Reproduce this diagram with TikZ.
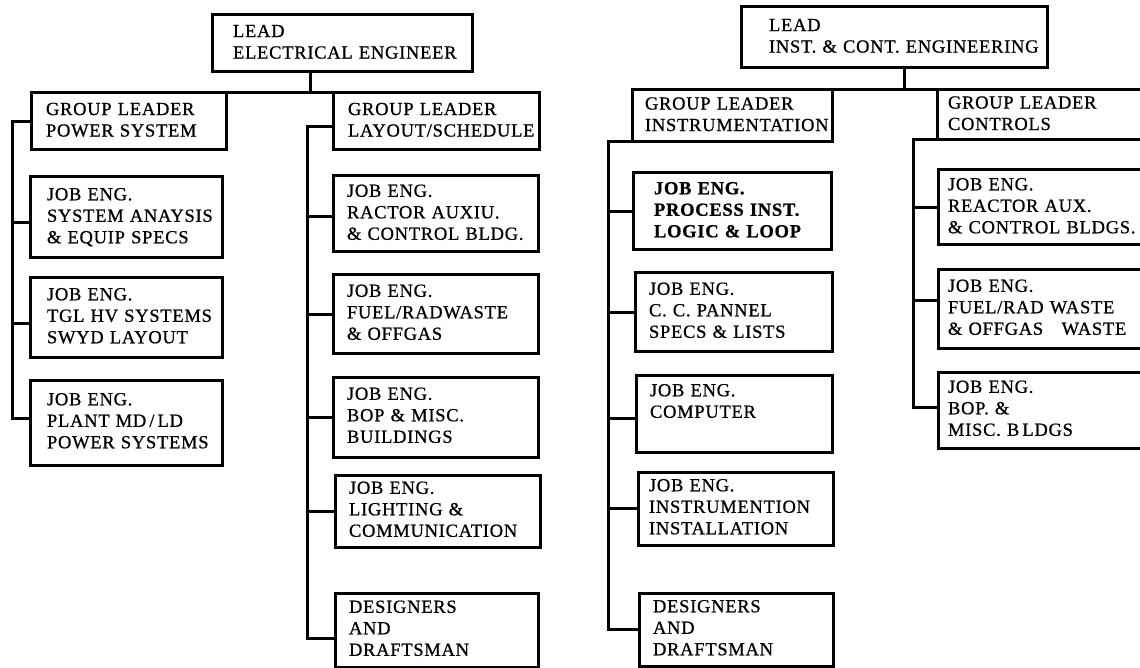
\documentclass[tikz,border=0pt]{standalone}
\usepackage{fontspec}
\setmainfont{Liberation Serif}[LetterSpace=4,FakeBold=0.8]
\tikzset{
  obox/.style={draw, line width=3pt, anchor=north west, inner ysep=0pt, outer sep=0pt,
    align=left, font=\fontsize{18.5}{21.5}\selectfont},
  conn/.style={line width=3pt},
}
% #1 options, #2 name, #3 x1, #4 y1, #5 x2, #6 y2, #7 left padding, #8 text
\newcommand\obx[8][]{%
  \pgfmathsetmacro\bw{#5-#3}\pgfmathsetmacro\bh{#6-#4}\pgfmathsetmacro\tw{#5-#3-2*#7}%
  \node[obox,#1,minimum width=\bw pt,minimum height=\bh pt,text width=\tw pt,inner xsep=#7pt]
    (#2) at (#3,#4) {\begin{tabular}{@{}l@{}}#8\end{tabular}};}
\begin{document}
\begin{tikzpicture}[x=1pt,y=-1pt]
\useasboundingbox (0,0) rectangle (1140,668);
% ---------- Electrical tree ----------
\obx{leadEE}{212}{15}{472}{72}{21}{LEAD\\ELECTRICAL ENGINEER}
\obx{glPower}{31}{93}{226}{150}{15}{GROUP LEADER\\POWER SYSTEM}
\obx{glLayout}{333}{93}{539}{150}{15}{GROUP LEADER\\LAYOUT/SCHEDULE}
\obx{jeSys}{30}{177}{222}{258}{17}{JOB ENG.\\SYSTEM ANAYSIS\\\& EQUIP SPECS}
\obx{jeTGL}{30}{278}{222}{357}{17}{JOB ENG.\\TGL HV SYSTEMS\\SWYD LAYOUT}
\obx{jePlant}{30}{380}{222}{465}{17}{JOB ENG.\\PLANT MD\,/\,LD\\POWER SYSTEMS}
\obx{jeRactor}{333}{176}{538}{252}{14}{JOB ENG.\\RACTOR AUXIU.\\\& CONTROL BLDG.}
\obx{jeFuel}{333}{275}{538}{353}{14}{JOB ENG.\\FUEL/RADWASTE\\\& OFFGAS}
\obx{jeBOP}{333}{377}{538}{457}{14}{JOB ENG.\\BOP \& MISC.\\BUILDINGS}
\obx{jeLight}{335}{475}{540}{547}{14}{JOB ENG.\\LIGHTING \&\\COMMUNICATION}
\obx{desL}{335}{593}{538}{667}{14}{DESIGNERS\\AND\\DRAFTSMAN}
% ---------- I&C tree ----------
\obx{leadIC}{741}{7}{1047}{68}{28}{LEAD\\INST. \& CONT. ENGINEERING}
\obx{glInstr}{632}{90}{832}{142}{13}{GROUP LEADER\\INSTRUMENTATION}
\obx{glCtrl}{937}{90}{1146}{140}{11}{GROUP LEADER\\CONTROLS}
\obx[font=\fontsize{18.5}{21.5}\selectfont\bfseries]{jeProc}{633}{173}{831}{250}{21}{JOB ENG.\\PROCESS INST.\\LOGIC \& LOOP}
\obx{jeCC}{635}{273}{832}{351}{14}{JOB ENG.\\C. C. PANNEL\\SPECS \& LISTS}
\obx{jeComp}{636}{375}{832}{452}{14}{JOB ENG.\\COMPUTER\\\mbox{}}
\obx{jeInst}{638}{472}{833}{545}{11}{JOB ENG.\\INSTRUMENTION\\INSTALLATION}
\obx{desR}{639}{593}{833}{666}{14}{DESIGNERS\\AND\\DRAFTSMAN}
\obx{jeReact}{938}{170}{1146}{245}{10}{JOB ENG.\\REACTOR AUX.\\\& CONTROL BLDGS.}
\obx{jeFuelR}{938}{270}{1146}{348}{10}{JOB ENG.\\FUEL/RAD WASTE\\\& OFFGAS\quad WASTE}
\obx{jeBOPR}{938}{372}{1146}{448}{10}{JOB ENG.\\BOP. \&\\MISC. B\,LDGS}
% ---------- connectors: electrical ----------
\coordinate (eeJ) at (310,93);
\draw[conn] (leadEE.south -| eeJ) -- (eeJ);
\draw[conn] (glPower.north east) -- (glLayout.north west);
\coordinate (bL) at (12,0);
\draw[conn] (glPower.west) -- (glPower.west -| bL) -- ([yshift=4pt]jePlant.west -| bL) -- ([yshift=4pt]jePlant.west);
\draw[conn] ([yshift=-5pt]jeSys.west) -- ([yshift=-5pt]jeSys.west -| bL);
\draw[conn] ([yshift=-6pt]jeTGL.west) -- ([yshift=-6pt]jeTGL.west -| bL);
\coordinate (bR) at (307,0);
\draw[conn] ([yshift=-5pt]glLayout.west) -- ([yshift=-5pt]glLayout.west -| bR) -- ([yshift=-8pt]desL.west -| bR) -- ([yshift=-8pt]desL.west);
\draw[conn] ([yshift=-3pt]jeRactor.west) -- ([yshift=-3pt]jeRactor.west -| bR);
\draw[conn] (jeFuel.west) -- (jeFuel.west -| bR);
\draw[conn] (jeBOP.west) -- (jeBOP.west -| bR);
\draw[conn] (jeLight.west) -- (jeLight.west -| bR);
% ---------- connectors: I&C ----------
\coordinate (icJ) at (904,90);
\draw[conn] (leadIC.south -| icJ) -- (icJ);
\draw[conn] (glInstr.north east) -- (glCtrl.north west);
\coordinate (bI) at (608,0);
\draw[conn] (glInstr.south west) -- (glInstr.south west -| bI) -- (desR.west -| bI) -- (desR.west);
\draw[conn] (jeProc.west) -- (jeProc.west -| bI);
\draw[conn] (jeCC.west) -- (jeCC.west -| bI);
\draw[conn] ([yshift=-5pt]jeComp.west) -- ([yshift=-5pt]jeComp.west -| bI);
\draw[conn] (jeInst.west) -- (jeInst.west -| bI);
\coordinate (bC) at (913,0);
\draw[conn] (glCtrl.south west) -- (glCtrl.south west -| bC) -- ([yshift=3pt]jeBOPR.west -| bC) -- ([yshift=3pt]jeBOPR.west);
\draw[conn] (jeReact.west) -- (jeReact.west -| bC);
\draw[conn] ([yshift=9pt]jeFuelR.west) -- ([yshift=9pt]jeFuelR.west -| bC);
\end{tikzpicture}
\end{document}
